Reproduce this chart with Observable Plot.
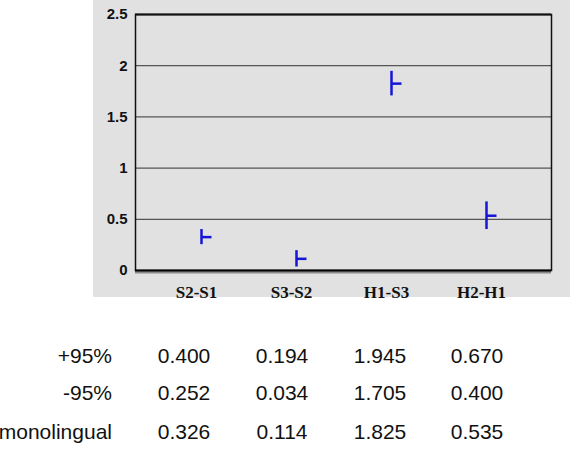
<!DOCTYPE html>
<html><head><meta charset="utf-8">
<script src="https://cdn.jsdelivr.net/npm/d3@7"></script>
<script src="https://cdn.jsdelivr.net/npm/@observablehq/plot@0.6"></script>
<style>
body{margin:0;background:#fff;}
#wrap{position:relative;width:570px;height:456px;overflow:hidden;}
#panel{position:absolute;left:93px;top:0;width:477px;height:297px;background:#e1e1e1;}
#chart{position:absolute;left:0;top:0;}
.cell{position:absolute;font-family:"Liberation Sans",Arial,sans-serif;font-size:21px;color:#111;line-height:1;white-space:nowrap;}
</style></head><body>
<div id="wrap"><div id="panel"></div><div id="chart"></div></div>
<script>
const categories = ["S2-S1","S3-S2","H1-S3","H2-H1"];
const upper95 = [0.400,0.194,1.945,0.670];
const lower95 = [0.252,0.034,1.705,0.400];
const monolingual = [0.326,0.114,1.825,0.535];
const yTicks = [0,0.5,1,1.5,2,2.5];
const rowLabels = ["+95%","-95%","monolingual"];

const data = categories.map((c,i)=>({cat:c, hi:upper95[i], lo:lower95[i], mid:monolingual[i]}));
const tickRight = {draw(ctx){ctx.moveTo(0,0);ctx.lineTo(10,0);}};
const blue = "#1515d6";
const plot = Plot.plot({
  width:570, height:300, marginLeft:135, marginRight:19, marginTop:14, marginBottom:30,
  style:{background:"transparent", overflow:"visible"},
  x:{type:"point", domain:categories, padding:0.667},
  y:{domain:[0,2.5]},
  marks:[
    Plot.frame({fill:"#e1e1e1"}),
    Plot.ruleY(yTicks.slice(1,-1), {stroke:"#555", strokeWidth:1.2}),
    Plot.ruleY([0], {stroke:"#888", strokeWidth:2, dy:2}),
    Plot.frame({stroke:"#111", strokeWidth:1.5}),
    Plot.ruleY([0], {stroke:"#000", strokeWidth:2}),
    Plot.ruleY([2.5], {stroke:"#111", strokeWidth:2}),
    Plot.ruleX(data, {x:"cat", y1:"lo", y2:"hi", stroke:blue, strokeWidth:2.5}),
    Plot.dot(data, {x:"cat", y:"mid", symbol:tickRight, stroke:blue, strokeWidth:2.5, fill:"none"}),
    Plot.axisY({ticks:yTicks, tickSize:0, tickPadding:8, fontWeight:"bold", fontSize:15, fontFamily:"Liberation Sans, Arial, sans-serif", fill:"#111", label:null, tickFormat:d=>String(d)}),
    Plot.axisX({tickSize:0, tickPadding:15, dx:-5, fontWeight:"bold", fontSize:17, fontFamily:"Liberation Serif, Times New Roman, serif", fill:"#111", label:null})
  ]
});
document.getElementById("chart").appendChild(plot);

// table below the chart
const rows = [upper95, lower95, monolingual];
const rowY = [356, 393, 432];
const colX = [184, 282, 380, 477];
const wrap = d3.select("#wrap");
rows.forEach((vals, r) => {
  wrap.append("div").attr("class","cell")
    .style("right", (570-112)+"px").style("top", (rowY[r]-11)+"px")
    .text(rowLabels[r]);
  vals.forEach((v, c) => {
    wrap.append("div").attr("class","cell")
      .style("left", colX[c]+"px").style("top", (rowY[r]-11)+"px")
      .style("transform","translateX(-50%)")
      .text(d3.format(".3f")(v));
  });
});
</script>
</body></html>
